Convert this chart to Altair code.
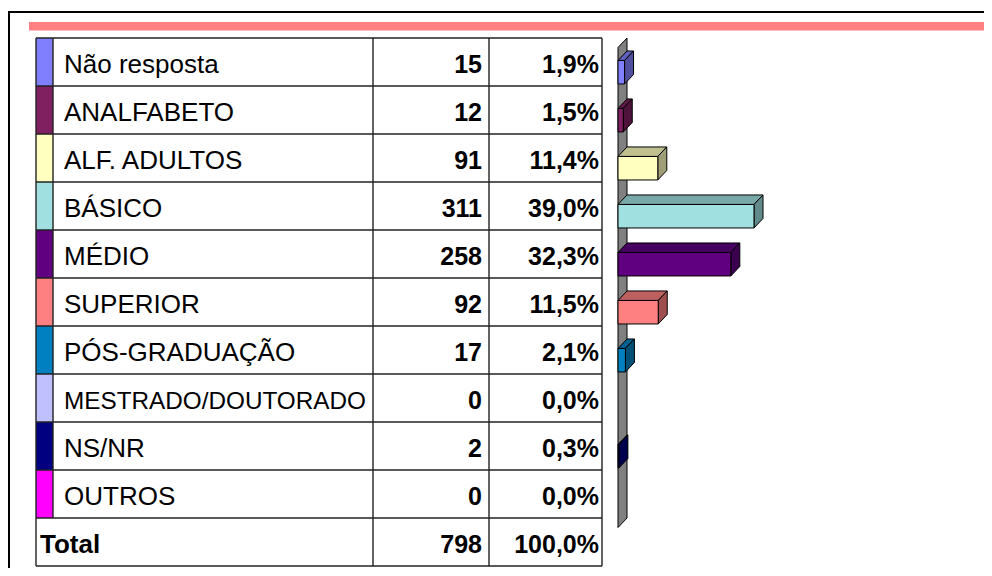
import altair as alt
import pandas as pd

# ---------------- data ----------------
CATEGORIES = ["Não resposta", "ANALFABETO", "ALF. ADULTOS", "BÁSICO", "MÉDIO",
              "SUPERIOR", "PÓS-GRADUAÇÃO", "MESTRADO/DOUTORADO", "NS/NR", "OUTROS"]
COUNTS = [15, 12, 91, 311, 258, 92, 17, 0, 2, 0]
PCTS = [1.9, 1.5, 11.4, 39.0, 32.3, 11.5, 2.1, 0.0, 0.3, 0.0]
TOTAL_LABEL = "Total"
TOTAL_COUNT = 798
TOTAL_PCT = 100.0

# ---------------- style ----------------
COLORS = ["#8080FF", "#802060", "#FFFFC0", "#A0E0E0", "#600080",
          "#FF8080", "#0080C0", "#C0C0FF", "#000080", "#FF00FF"]
FONT = "Liberation Sans"


def shade(hexc, f):
    h = hexc.lstrip("#")
    r, g, b = (int(h[k:k + 2], 16) for k in (0, 2, 4))
    return "#%02X%02X%02X" % (int(r * f), int(g * f), int(b * f))


def fmt_pct(p):
    return f"{p:.1f}".replace(".", ",") + "%"


NROWS = len(CATEGORIES)
XMAX = max(COUNTS)
PX_PER_UNIT = 136 / XMAX
DX = 9 / PX_PER_UNIT
DY = 9.5 / 48
BAND_TOP, BAND_BOT = 0.27, 0.76


def ysc():
    return alt.Scale(domain=[0, NROWS + 1], range=[30, 558], nice=False, zero=False)


def xsc():
    return alt.Scale(domain=[0, XMAX], range=[610, 746], nice=False, zero=False)


# ---------------- tables ----------------
rows = pd.DataFrame({
    "label": CATEGORIES + [TOTAL_LABEL],
    "count": [str(c) for c in COUNTS] + [str(TOTAL_COUNT)],
    "pct": [fmt_pct(p) for p in PCTS] + [fmt_pct(TOTAL_PCT)],
    "row": list(range(NROWS + 1)),
    "row1": list(range(1, NROWS + 2)),
    "color": COLORS + ["#FFFFFF"],
})
cat_rows = rows.iloc[:NROWS].reset_index(drop=True)
long_rows = cat_rows[cat_rows["label"].str.len() > 15].reset_index(drop=True)
short_rows = cat_rows[cat_rows["label"].str.len() <= 15].reset_index(drop=True)
total_rows = rows.iloc[NROWS:].reset_index(drop=True)

front = []
poly = []
pid = 0
for i, (n, col) in enumerate(zip(COUNTS, COLORS)):
    if n <= 0:
        continue
    tb, bb = i + BAND_TOP, i + BAND_BOT
    tf, bf = tb + DY, bb + DY
    front.append({"x0": 0, "x1": n, "y0": tf, "y1": bf, "fill": col})
    top = [(0, tf), (n, tf), (n + DX, tb), (DX, tb), (0, tf)]
    side = [(n, tf), (n + DX, tb), (n + DX, bb), (n, bf), (n, tf)]
    for pts, f in ((top, 0.75), (side, 0.62)):
        for k, (x, y) in enumerate(pts):
            poly.append({"pid": pid, "k": k, "x": x, "y": y, "fill": shade(col, f)})
        pid += 1
front = pd.DataFrame(front)
poly = pd.DataFrame(poly)

wall_pts = [(0, DY), (DX, 0), (DX, NROWS), (0, NROWS + DY), (0, DY)]
wall = pd.DataFrame([{"pid": 0, "k": k, "x": x, "y": y, "fill": "#808080"}
                     for k, (x, y) in enumerate(wall_pts)])

one = pd.DataFrame({"a": [0]})
hlines = pd.DataFrame({"k": list(range(NROWS + 2))})
span_full = pd.DataFrame({"y0": [0], "y1": [NROWS + 1]})
span_cat = pd.DataFrame({"y0": [0], "y1": [NROWS]})

# ---------------- layers ----------------
frame_top = alt.Chart(one).mark_rect(color="black").encode(
    x=alt.value(0), x2=alt.value(976), y=alt.value(3), y2=alt.value(5))
frame_left = alt.Chart(one).mark_rect(color="black").encode(
    x=alt.value(0), x2=alt.value(2), y=alt.value(3), y2=alt.value(560))
pink = alt.Chart(one).mark_rect(color="#FF8080").encode(
    x=alt.value(21), x2=alt.value(976), y=alt.value(14), y2=alt.value(22.5))

swatches = alt.Chart(cat_rows).mark_rect().encode(
    x=alt.value(28), x2=alt.value(45),
    y=alt.Y("row:Q", scale=ysc(), axis=None),
    y2="row1:Q",
    fill=alt.Fill("color:N", scale=None),
)

LINE = dict(color="#222222", strokeWidth=1.4)
hgrid = alt.Chart(hlines).mark_rule(**LINE).encode(
    y=alt.Y("k:Q", scale=ysc(), axis=None), x=alt.value(28), x2=alt.value(594))
vgrid = []
for xv, src in ((28, span_full), (45, span_cat), (365, span_full), (481, span_full), (594, span_full)):
    vgrid.append(alt.Chart(src).mark_rule(**LINE).encode(
        x=alt.value(xv), y=alt.Y("y0:Q", scale=ysc(), axis=None), y2="y1:Q"))

TXT = dict(baseline="alphabetic", dy=35.3, font=FONT, color="black")
labels = alt.Chart(short_rows).mark_text(align="left", fontSize=26, **TXT).encode(
    x=alt.value(56), y=alt.Y("row:Q", scale=ysc(), axis=None), text="label:N")
labels_long = alt.Chart(long_rows).mark_text(align="left", fontSize=24.3, **TXT).encode(
    x=alt.value(56), y=alt.Y("row:Q", scale=ysc(), axis=None), text="label:N")
total_label = alt.Chart(total_rows).mark_text(
    align="left", fontWeight="bold", fontSize=26, **TXT).encode(
    x=alt.value(32), y=alt.Y("row:Q", scale=ysc(), axis=None), text="label:N")
counts = alt.Chart(rows).mark_text(
    align="right", fontWeight="bold", fontSize=25, **TXT).encode(
    x=alt.value(474), y=alt.Y("row:Q", scale=ysc(), axis=None), text="count:N")
pcts = alt.Chart(rows).mark_text(
    align="right", fontWeight="bold", fontSize=25, **TXT).encode(
    x=alt.value(591), y=alt.Y("row:Q", scale=ysc(), axis=None), text="pct:N")

wall_layer = alt.Chart(wall).mark_line(
    stroke="black", strokeWidth=1, strokeJoin="miter").encode(
    x=alt.X("x:Q", scale=xsc(), axis=None),
    y=alt.Y("y:Q", scale=ysc(), axis=None),
    fill=alt.Fill("fill:N", scale=None),
    order="k:Q", detail="pid:N")

faces = alt.Chart(poly).mark_line(stroke="black", strokeWidth=1, strokeJoin="miter").encode(
    x=alt.X("x:Q", scale=xsc(), axis=None),
    y=alt.Y("y:Q", scale=ysc(), axis=None),
    fill=alt.Fill("fill:N", scale=None),
    order="k:Q", detail="pid:N")

fronts = alt.Chart(front).mark_rect(stroke="black", strokeWidth=1).encode(
    x=alt.X("x0:Q", scale=xsc(), axis=None), x2="x1:Q",
    y=alt.Y("y0:Q", scale=ysc(), axis=None), y2="y1:Q",
    fill=alt.Fill("fill:N", scale=None))

chart = alt.layer(
    frame_top, frame_left, pink, swatches, hgrid, *vgrid,
    labels, labels_long, total_label, counts, pcts, wall_layer, faces, fronts,
).properties(
    width=976, height=560, padding=0, autosize="none", background="white"
).configure_view(stroke=None)

chart.save("out.html", embed_options={"renderer": "svg", "actions": False})
